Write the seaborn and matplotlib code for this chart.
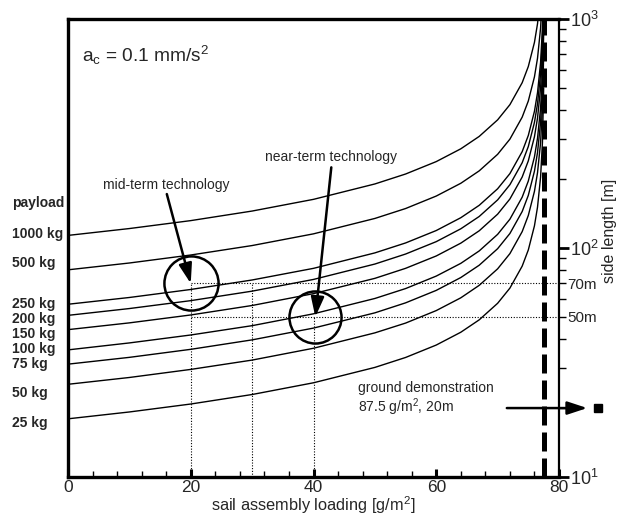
import numpy as np
import matplotlib
matplotlib.use('Agg')
import matplotlib.pyplot as plt
import seaborn as sns
from matplotlib.ticker import MultipleLocator, LogLocator, FuncFormatter

# Sail assembly loading [g/m^2] at which the curves were read
loading = [0, 10, 20, 30, 40, 50, 55, 60, 64, 67, 70, 72, 74, 75, 76, 76.5, 77, 77.3, 77.5]

# Side length [m]
payload_labels = ['1000 kg', '500 kg', '250 kg', '200 kg', '150 kg', '100 kg', '75 kg', '50 kg', '25 kg']
side_1000 = [113.5, 121.6, 131.7, 145.0, 163.1, 190.4, 210.4, 238.4, 271.1, 307.1, 362.7, 422.6, 527.0, 620.2, 790.6, 953.5, 1291, 1826, 3162]
side_500 = [80.3, 86.0, 93.2, 102.5, 115.3, 134.6, 148.7, 168.6, 191.7, 217.2, 256.5, 298.8, 372.7, 438.5, 559.0, 674.2, 912.9, 1291, 2236]
side_250 = [56.8, 60.8, 65.9, 72.5, 81.5, 95.2, 105.2, 119.2, 135.6, 153.6, 181.4, 211.3, 263.5, 310.1, 395.3, 476.7, 645.5, 912.9, 1581]
side_200 = [50.8, 54.4, 58.9, 64.8, 72.9, 85.1, 94.1, 106.6, 121.3, 137.3, 162.2, 189.0, 235.7, 277.4, 353.6, 426.4, 577.4, 816.5, 1414]
side_150 = [44.0, 47.1, 51.0, 56.1, 63.2, 73.7, 81.5, 92.3, 105.0, 118.9, 140.5, 163.7, 204.1, 240.2, 306.2, 369.3, 500.0, 707.1, 1225]
side_100 = [35.9, 38.5, 41.7, 45.8, 51.6, 60.2, 66.5, 75.4, 85.7, 97.1, 114.7, 133.6, 166.7, 196.1, 250.0, 301.5, 408.2, 577.4, 1000]
side_75 = [31.1, 33.3, 36.1, 39.7, 44.7, 52.1, 57.6, 65.3, 74.3, 84.1, 99.3, 115.7, 144.3, 169.8, 216.5, 261.2, 353.5, 500.0, 866.0]
side_50 = [25.4, 27.2, 29.5, 32.4, 36.5, 42.6, 47.0, 53.3, 60.6, 68.7, 81.1, 94.5, 117.9, 138.7, 176.8, 213.2, 288.7, 408.2, 707.1]
side_25 = [17.95, 19.23, 20.83, 22.92, 25.79, 30.10, 33.26, 37.69, 42.87, 48.56, 57.35, 66.82, 83.33, 98.06, 125.0, 150.8, 204.1, 288.7, 500.0]
curves = [side_1000, side_500, side_250, side_200, side_150, side_100, side_75, side_50, side_25]

# Label heights (figure pixels from top) for payload names
label_y_px = [234, 263, 304, 319, 334, 349, 364, 393, 423]

critical_loading = 77.6
mid_term = (20, 70)
near_term = (40, 50)
ground_demo = (86.3, 20)

sns.set_theme(style='white')
plt.rcParams['font.family'] = ['Liberation Sans', 'DejaVu Sans']
plt.rcParams['mathtext.fontset'] = 'custom'
plt.rcParams['mathtext.rm'] = 'Liberation Sans'
plt.rcParams['mathtext.it'] = 'Liberation Sans:italic'

W, H = 622, 516
fig = plt.figure(figsize=(W / 100, H / 100), dpi=100)
ax = fig.add_axes([68 / W, 1 - 477 / H, (559 - 68) / W, (477 - 19) / H])

# payload curves
for vals in curves:
    sns.lineplot(x=loading, y=vals, ax=ax, color='black', linewidth=1.0, sort=False)

ax.set_yscale('log')
ax.set_xlim(0, 80)
ax.set_ylim(10, 1000)

# critical loading
ax.axvline(critical_loading, color='black', linewidth=3.6, dashes=(3.8, 1.4))

# dotted reference lines
dot = dict(color='black', linewidth=0.8, linestyle=(0, (1, 1.5)))
ax.plot([mid_term[0], 80], [mid_term[1], mid_term[1]], **dot)
ax.plot([mid_term[0], 80], [near_term[1], near_term[1]], **dot)
ax.plot([mid_term[0], mid_term[0]], [10, mid_term[1]], **dot)
ax.plot([30, 30], [10, mid_term[1]], **dot)
ax.plot([near_term[0], near_term[0]], [10, near_term[1]], **dot)

# technology circles
ax.plot(mid_term[0], mid_term[1], 'o', ms=39, mfc='none', mec='black', mew=1.8)
ax.plot(near_term[0] + 0.2, near_term[1], 'o', ms=37.5, mfc='none', mec='black', mew=1.8)

arrow = dict(arrowstyle='-|>,head_length=1.0,head_width=0.33', color='black', lw=1.8, shrinkA=0, shrinkB=0)
ax.annotate('', xy=(mid_term[0], mid_term[1]), xytext=(16.1, 172), arrowprops=arrow)
ax.annotate('', xy=(near_term[0] + 0.3, near_term[1]), xytext=(42.9, 225), arrowprops=arrow)
ax.text(5.7, 188, 'mid-term technology', fontsize=10, va='center', ha='left')
ax.text(32.1, 249, 'near-term technology', fontsize=10, va='center', ha='left')

# ground demonstration
ax.annotate('', xy=(84.6, 20), xytext=(71.5, 20), annotation_clip=False, arrowprops=arrow)
ax.plot(ground_demo[0], ground_demo[1], 's', ms=6, color='black', clip_on=False)
ax.text(47.2, 21.8, 'ground demonstration\n87.5 g/m$^{2}$, 20m', fontsize=10, va='center', ha='left',
        linespacing=1.15)

ax.text(2.3, 690, r'a$_{\mathregular{c}}$ = 0.1 mm/s$^{2}$', fontsize=13.8, va='center', ha='left')

# payload labels outside left
fig.text(12 / W, 1 - 203 / H, 'payload', fontsize=10, fontweight='bold', va='center', ha='left')
for lab, ypx in zip(payload_labels, label_y_px):
    fig.text(12 / W, 1 - ypx / H, lab, fontsize=10, fontweight='bold', va='center', ha='left')

# axes styling
for side in ['left', 'top', 'bottom']:
    ax.spines[side].set_linewidth(2.4)
ax.spines['right'].set_linewidth(1.6)
for s in ax.spines.values():
    s.set_color('black')

ax.xaxis.set_major_locator(MultipleLocator(20))
ax.xaxis.set_minor_locator(MultipleLocator(4))
ax.tick_params(axis='x', which='major', direction='in', length=6, width=2.2, labelsize=12.5, pad=2,
               bottom=True, top=False, color='black')
ax.tick_params(axis='x', which='minor', direction='in', length=4.5, width=1.0, bottom=True, top=False,
               color='black')

ax.yaxis.tick_right()
ax.yaxis.set_label_position('right')
ax.yaxis.set_major_locator(LogLocator(base=10, numticks=5))
ax.yaxis.set_minor_locator(LogLocator(base=10, subs=np.arange(2, 10), numticks=20))
ax.yaxis.set_minor_formatter(FuncFormatter(lambda v, p: f'{v:.0f}m' if round(v) in (50, 70) else ''))
ax.tick_params(axis='y', which='major', direction='out', length=7, width=2.0, labelsize=13, pad=1,
               left=False, right=True, color='black')
ax.tick_params(axis='y', which='minor', direction='out', length=5, width=1.0, labelsize=11, pad=1,
               left=False, right=True, color='black')

ax.set_xlabel('sail assembly loading [g/m$^{2}$]', fontsize=11.8, labelpad=-0.5)
ax.set_ylabel('side length [m]', fontsize=11.5)
ax.yaxis.set_label_coords(1.088, 0.537)

fig.savefig('out.png', dpi=100)
